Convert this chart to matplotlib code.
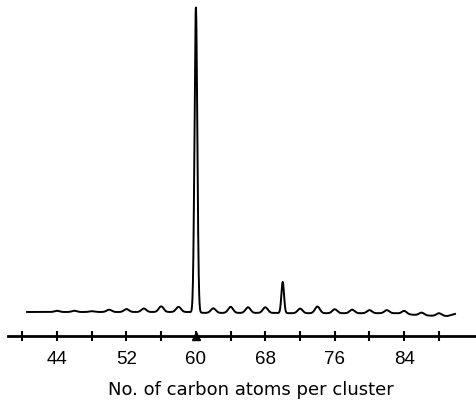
import numpy as np
import matplotlib
matplotlib.use("Agg")
import matplotlib.pyplot as plt

# ---- data (relative intensity, C60 = 100) ----
cluster_sizes = [44, 46, 48, 50, 52, 54, 56, 58, 60, 62, 64, 66, 68, 70,
                 72, 74, 76, 78, 80, 82, 84, 86, 88]
peak_heights = [0.4, 0.4, 0.25, 0.75, 0.95, 1.15, 1.85, 1.7, 100.0, 1.5, 2.0,
                1.85, 1.85, 10.2, 1.5, 2.2, 1.3, 1.15, 1.0, 1.0, 1.0, 0.85, 0.85]
peak_widths = [0.28] * 8 + [0.16] + [0.28] * 4 + [0.15] + [0.28] * 9

# baseline level between peaks (odd cluster sizes)
valley_sizes = [40.5, 43, 59, 61, 69, 71, 83, 85, 87, 89, 89.9]
valley_levels = [0.0, 0.0, 0.0, -0.3, -0.3, -0.4, -0.4, -0.9, -1.2, -1.3, -0.6]

tick_positions = [40, 44, 48, 52, 56, 60, 64, 68, 72, 76, 80, 84, 88]
tick_labels = ["", "44", "", "52", "", "60", "", "68", "", "76", "", "84", ""]
x_label = "No. of carbon atoms per cluster"

# ---- build the trace ----
x = np.linspace(40.55, 89.85, 4000)
y = np.interp(x, valley_sizes, valley_levels)
for c, h, w in zip(cluster_sizes, peak_heights, peak_widths):
    y = y + h * np.exp(-0.5 * ((x - c) / w) ** 2)

fig = plt.figure(figsize=(4.76, 4.06), dpi=100)
ax = fig.add_axes([0.0, 69 / 406, 1.0, 337 / 406])
ax.plot(x, y, color="black", lw=1.4, solid_joinstyle="round")

ax.set_xlim(37.43, 92.27)
ax.set_ylim(-7.87, 102.6)

for s in ["top", "left", "right"]:
    ax.spines[s].set_visible(False)
ax.spines["bottom"].set_linewidth(2.0)
ax.spines["bottom"].set_bounds(38.35, 92.27)
ax.set_yticks([])

ax.set_xticks(tick_positions)
ax.set_xticklabels(tick_labels, fontsize=13.5, family="Liberation Sans")
ax.tick_params(axis="x", direction="inout", length=7.5, width=1.5, pad=6.0)

ax.plot([60], [-7.87], marker="^", color="black", markersize=5.5,
        clip_on=False, zorder=5)

fig.text(251 / 476, 1 - 390 / 406, x_label, ha="center", va="center",
         fontsize=13, family="DejaVu Sans")

fig.savefig("out.png", dpi=100)
